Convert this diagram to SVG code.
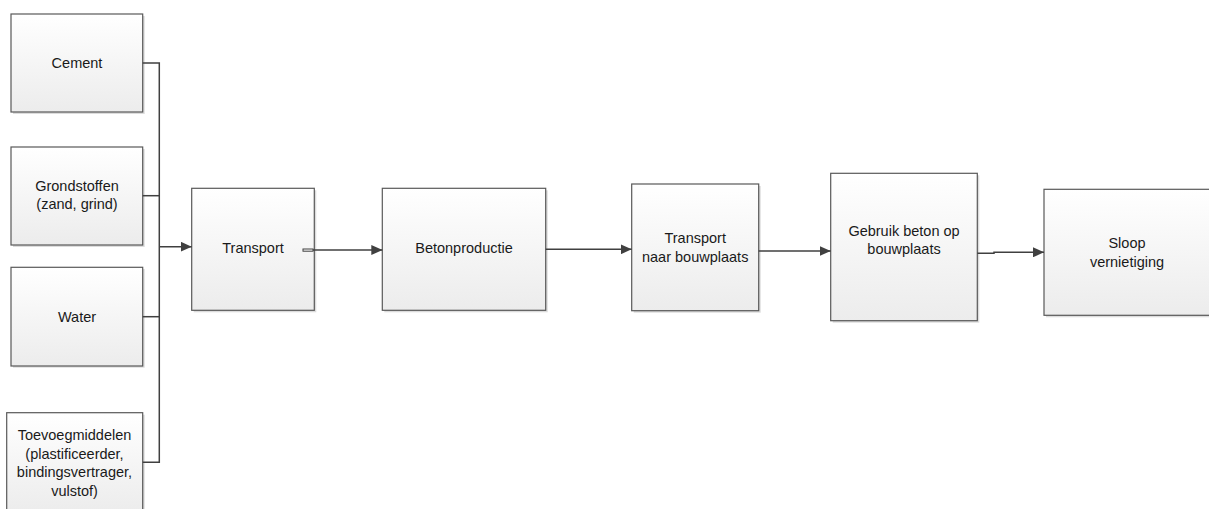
<svg xmlns="http://www.w3.org/2000/svg" width="1209" height="509" viewBox="0 0 1209 509">
<defs>
<linearGradient id="g" x1="0" y1="0" x2="0" y2="1">
<stop offset="0" stop-color="#ffffff"/>
<stop offset="1" stop-color="#ececec"/>
</linearGradient>
<marker id="arr" viewBox="0 0 11 10" refX="11" refY="5" markerWidth="11" markerHeight="10" markerUnits="userSpaceOnUse" orient="auto">
<path d="M0,0 L11,5 L0,10 z" fill="#404040"/>
</marker>
</defs>
<style>
.box{fill:url(#g);stroke:#595959;stroke-width:1.2}
.sh{fill:#dcdcdc}
.t{font-family:"Liberation Sans",Arial,sans-serif;font-size:14.5px;fill:#1a1a1a;text-anchor:middle}
.c{fill:none;stroke:#404040;stroke-width:1.5}
</style>
<rect width="1209" height="509" fill="#ffffff"/>
<g id="cement">
<rect class="sh" x="13" y="16" width="131.7" height="98"/>
<rect class="box" x="11" y="14" width="131.7" height="98"/>
<text class="t" x="77" y="68">Cement</text>
</g>
<g id="grondstoffen">
<rect class="sh" x="13" y="149" width="131.7" height="98"/>
<rect class="box" x="11" y="147" width="131.7" height="98"/>
<text class="t" x="77" y="191">Grondstoffen</text>
<text class="t" x="77" y="209">(zand, grind)</text>
</g>
<g id="water">
<rect class="sh" x="13" y="269" width="131.7" height="98.7"/>
<rect class="box" x="11" y="267.3" width="131.7" height="98.7"/>
<text class="t" x="77" y="322">Water</text>
</g>
<g id="toevoeg">
<rect class="sh" x="8.7" y="414.7" width="136" height="100"/>
<rect class="box" x="6.7" y="412.7" width="136" height="100"/>
<text class="t" x="74.5" y="440">Toevoegmiddelen</text>
<text class="t" x="74.5" y="458.5">(plastificeerder,</text>
<text class="t" x="74.5" y="477">bindingsvertrager,</text>
<text class="t" x="74.5" y="495.5">vulstof)</text>
</g>
<g id="transport">
<rect class="sh" x="193.7" y="190.3" width="122.6" height="122"/>
<rect class="box" x="191.7" y="188.3" width="122.6" height="122"/>
<text class="t" x="253" y="253.3">Transport</text>
</g>
<g id="betonproductie">
<rect class="sh" x="384.3" y="190.3" width="163.4" height="122"/>
<rect class="box" x="382.3" y="188.3" width="163.4" height="122"/>
<text class="t" x="464" y="253.3">Betonproductie</text>
</g>
<g id="transport-bouwplaats">
<rect class="sh" x="633.7" y="186" width="127" height="126.7"/>
<rect class="box" x="631.7" y="184" width="127" height="126.7"/>
<text class="t" x="695.2" y="243.3">Transport</text>
<text class="t" x="695.2" y="261.7">naar bouwplaats</text>
</g>
<g id="gebruik">
<rect class="sh" x="832.7" y="175.3" width="146.6" height="147.4"/>
<rect class="box" x="830.7" y="173.3" width="146.6" height="147.4"/>
<text class="t" x="904" y="236">Gebruik beton op</text>
<text class="t" x="904" y="254.3">bouwplaats</text>
</g>
<g id="sloop">
<rect class="sh" x="1046" y="191.3" width="170" height="126"/>
<rect class="box" x="1044" y="189.3" width="170" height="126"/>
<text class="t" x="1127" y="248.3">Sloop</text>
<text class="t" x="1127" y="267.3">vernietiging</text>
</g>
<g id="connectors">
<polyline class="c" points="142.7,63 159.3,63 159.3,462.3 142.7,462.3"/>
<line class="c" x1="142.7" y1="195.7" x2="159.3" y2="195.7"/>
<line class="c" x1="142.7" y1="316.7" x2="159.3" y2="316.7"/>
<line class="c" x1="159.3" y1="246.7" x2="191.7" y2="246.7" stroke-width="2" marker-end="url(#arr)"/>
<rect x="303" y="249" width="10" height="2.2" fill="none" stroke="#404040" stroke-width="1"/>
<line class="c" x1="313" y1="250" x2="382.3" y2="250" marker-end="url(#arr)"/>
<line class="c" x1="545.7" y1="249.3" x2="631.7" y2="249.3" marker-end="url(#arr)"/>
<line class="c" x1="758.7" y1="251" x2="830.7" y2="251" marker-end="url(#arr)"/>
<polyline class="c" points="977.3,253.3 994,253.3 994,252.3 1044,252.3" marker-end="url(#arr)"/>
</g>
</svg>
